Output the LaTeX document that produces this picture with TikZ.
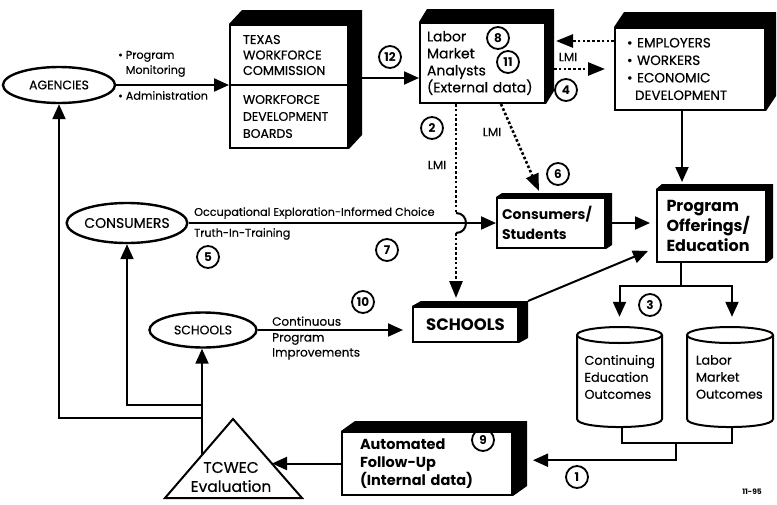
\documentclass[tikz,border=0pt]{standalone}
\usepackage{fontspec}
\setmainfont{Poppins}[UprightFeatures={FakeBold=0.4}]
\usetikzlibrary{arrows.meta,calc,shapes.geometric}
\newcommand\depthbox[3]{\fill (#1.north west) -- ++(#2,-#3) -- ($(#1.north east)+(#2,-#3)$) -- ($(#1.south east)+(#2,-#3)$) -- (#1.south east) -- (#1.north east) -- cycle;}
\begin{document}
\begin{tikzpicture}[x=1pt,y=-1pt,
 ln/.style={line width=2pt},
 arr/.style={line width=2pt,-{Triangle[length=15pt,width=13pt]}},
 dotln/.style={line width=2.6pt,dash pattern=on 2.6pt off 2.2pt},
 darr/.style={dotln,-{Triangle[length=17pt,width=13pt]}},
 frontbox/.style={draw,line width=2pt,fill=white,inner sep=0pt,align=left},
 oval/.style={ellipse,draw,line width=2.4pt,inner sep=0pt},
 num/.style={circle,draw,line width=1.8pt,minimum size=22pt,inner sep=0pt,font=\bfseries\fontsize{12}{12}\selectfont},
 lab/.style={inner sep=0pt,font=\fontsize{11.2}{15}\selectfont,align=left},
 capsfont/.style={font=\fontsize{12.8}{15.5}\selectfont},
 cylst/.style={line width=2pt,fill=white},
]
\useasboundingbox (0,0) rectangle (777,504);

% ovals
\node[oval,font=\fontsize{12.5}{13}\selectfont,minimum width=112pt,minimum height=36pt] (ag) at (59,85) {AGENCIES};
\node[oval,font=\fontsize{14}{14}\selectfont,minimum width=110pt,minimum height=40pt] (con) at (127,223) {CONSUMERS};
\node[oval,font=\fontsize{12.5}{13}\selectfont,minimum width=107pt,minimum height=35pt] (sc) at (203,330) {SCHOOLS};

% boxes
\node[frontbox,capsfont,minimum width=118pt,minimum height=60pt,text width=92pt] (tx) at (289,55) {TEXAS\\WORKFORCE\\COMMISSION};
\node[frontbox,font=\fontsize{12.5}{17}\selectfont,minimum width=118pt,minimum height=63pt,text width=92pt] (wdb) at (289,116.5) {WORKFORCE\\DEVELOPMENT\\BOARDS};
\node[frontbox,font=\fontsize{14}{17}\selectfont,minimum width=125pt,minimum height=80pt,text width=111pt] (lb) at (482.5,63) {Labor\\Market\\Analysts\\(External data)};
\node[frontbox,font=\fontsize{13.5}{17.5}\selectfont,minimum width=150pt,minimum height=82pt,text width=126pt] (emp) at (690,69) {\textbullet\ EMPLOYERS\\\textbullet\ WORKERS\\\textbullet\ ECONOMIC\\\hspace*{8pt}DEVELOPMENT};
\node[frontbox,font=\bfseries\fontsize{14}{20}\selectfont,minimum width=108pt,minimum height=50pt,text width=98pt] (cs) at (551,223) {Consumers/\\Students};
\node[frontbox,font=\bfseries\fontsize{16}{20}\selectfont,minimum width=109pt,minimum height=72pt,text width=90pt] (prog) at (711.5,226) {Program\\Offerings/\\Education};
\node[frontbox,font=\bfseries\fontsize{16.5}{17}\selectfont,minimum width=105pt,minimum height=35pt,align=center] (sch) at (465.5,324.5) {SCHOOLS};
\node[frontbox,font=\bfseries\fontsize{14.5}{18}\selectfont,minimum width=170pt,minimum height=63pt,text width=134pt] (auto) at (427,463.5) {Automated\\Follow-Up\\(Internal data)};

% cylinders
\draw[cylst] (577,335) -- (577,419) .. controls (577,429.7) and (662,429.7) .. (662,419) -- (662,335);
\draw[cylst] (619.5,335) ellipse [x radius=42.5,y radius=8];
\draw[cylst] (687,335) -- (687,419) .. controls (687,429.7) and (773,429.7) .. (773,419) -- (773,335);
\draw[cylst] (730,335) ellipse [x radius=43,y radius=8];
\node[inner sep=0pt,minimum height=100pt,text width=70pt,align=left,font=\fontsize{12.8}{17}\selectfont] (cy1) at (619.5,377) {Continuing\\Education\\Outcomes};
\node[inner sep=0pt,minimum height=100pt,text width=68pt,align=left,font=\fontsize{12.8}{17}\selectfont] (cy2) at (730,377) {Labor\\Market\\Outcomes};

% triangle
\draw[line width=2pt,fill=white,line join=miter] (233,419) -- (302,498) -- (165,498) -- cycle;
\node[inner sep=0pt,align=center,font=\fontsize{15.5}{19}\selectfont] (tri) at (231,477) {TCWEC\\Evaluation};
\coordinate (triR) at (272,463.5);
\coordinate (fb) at (202,455);
\coordinate (b1) at (202,405);
\coordinate (b2) at (202,418);

% connectors
\draw[arr] (ag.east) -- (ag.east -| tx.west);
\node[lab,anchor=south west] (pm) at (118,77) {\textbullet\ Program\\\phantom{\textbullet\ }Monitoring};
\node[lab,anchor=north west] (adm) at (118,91) {\textbullet\ Administration};

\coordinate (a12) at ($(tx.south east)+(0,-8)$);
\draw[arr] (a12) -- (a12 -| lb.west);

\coordinate (ul) at ($(lb.north east)+(10,19)$);
\draw[darr] (emp.west |- ul) -- (ul);
\coordinate (ll) at ($(lb.north east)+(8,47)$);
\draw[darr,shorten >=9pt] (ll) -- (ll -| emp.west);
\node[lab,font=\fontsize{12}{12}\selectfont] (lmi1) at (568,57) {LMI};

\coordinate (eb) at ($(emp.south west)+(68,0)$);
\draw[arr,shorten >=7pt] (eb) -- (eb |- prog.north);

\coordinate (vtop) at ($(lb.south west)+(37,0)$);
\coordinate (h1) at (vtop |- con.center);
\draw[dotln] (vtop) -- ($(h1)+(0,-10)$);
\draw[ln] ($(h1)+(0,-10)$) .. controls +(13.3,0) and +(13.3,0) .. ($(h1)+(0,10)$);
\draw[darr,shorten >=8pt] ($(h1)+(0,10)$) -- (vtop |- sch.north);
\node[lab,font=\fontsize{12}{12}\selectfont] (lmi2) at (437,165) {LMI};

\draw[darr] ($(lb.south west)+(82,0)$) -- ($(cs.north west)+(43,-6)$);
\node[lab,font=\fontsize{12}{12}\selectfont] (lmi3) at (492,132) {LMI};

\draw[arr] (con.east) -- (con.east -| cs.west);
\node[lab,anchor=south west] (oe) at (194,219) {Occupational Exploration-Informed Choice};
\node[lab,anchor=north west] (tt) at (194,228) {Truth-In-Training};

\draw[arr,shorten >=6pt] (cs.east) -- (cs.east -| prog.west);
\draw[arr] ($(sch.north east)+(9,-5)$) -- ($(prog.south west)+(-8,-12)$);

\draw[arr,shorten >=9pt] (sc.east) -- (sc.east -| sch.west);
\node[lab,font=\fontsize{12}{15}\selectfont,anchor=south west] (ci) at (272,326) {Continuous};
\node[lab,font=\fontsize{12}{15}\selectfont,anchor=north west] (pi) at (272,333) {Program\\Improvements};

\coordinate (pb) at ($(prog.south west)+(25,0)$);
\coordinate (split) at ($(pb)+(0,23)$);
\draw[ln] (pb) -- (split);
\draw[arr] (split) -| ($(cy1.north)+(0,-10)$);
\draw[arr] (split) -| ($(cy2.north)+(2,-10)$);

\coordinate (mid) at ($(cy1.south)!0.5!(cy2.south)$);
\draw[ln] ($(cy1.south)+(2,0)$) -- ++(0,16) -| ($(cy2.south)+(2,0)$);
\coordinate (m1) at ($(mid)+(1,16)$);
\coordinate (m2) at ($(mid)+(1,33)$);
\coordinate (ae) at ($(auto.east)+(20,0)$);
\draw[arr] (m1) -- (m2) -- (m2 -| ae);

\draw[arr] (auto.west) -- (triR);
\draw[arr] (fb) -- (fb |- sc.south);
\draw[arr] (b1) -| (con.south);
\draw[arr] (b2) -| (ag.south);

% 3D depth
\fill (tx.north west) -- ++(13,-14) -- ($(tx.north east)+(13,-14)$) -- ($(wdb.south east)+(13,-14)$) -- (wdb.south east) -- (tx.north east) -- cycle;
\depthbox{lb}{8}{13}
\depthbox{emp}{10}{15}
\depthbox{cs}{6}{4}
\depthbox{prog}{6}{5}
\depthbox{sch}{9}{5}
\depthbox{auto}{14}{10}

% numbers
\node[num] (n12) at (390,57) {12};
\node[num] (n8) at (498,38) {8};
\node[num] (n11) at (508,62) {11};
\node[num] (n4) at (566,90) {4};
\node[num] (n2) at (432,128) {2};
\node[num] (n6) at (558,174) {6};
\node[num] (n5) at (208,257) {5};
\node[num] (n7) at (387,250) {7};
\node[num] (n10) at (363,302) {10};
\node[num] (n3) at (650,305) {3};
\node[num] (n9) at (483,440) {9};
\node[num] (n1) at (577,477) {1};

\node[inner sep=0pt,font=\bfseries\fontsize{7.5}{8}\selectfont] (date) at (752,492) {11-95};
\end{tikzpicture}
\end{document}
